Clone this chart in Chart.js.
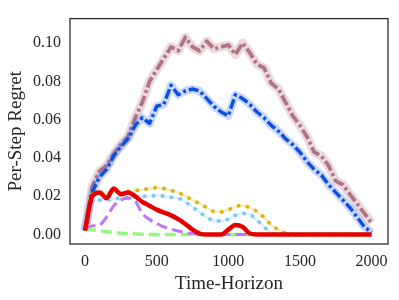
<!DOCTYPE html>
<html>
<head>
<meta charset="utf-8">
<script src="https://cdn.jsdelivr.net/npm/chart.js@4.4.1/dist/chart.umd.min.js"></script>
<style>
  body { margin: 0; background: #fff; }
  #wrap { width: 399px; height: 300px; }
</style>
</head>
<body>
<div id="wrap"><canvas id="regretChart" width="399" height="300"></canvas></div>
<script>
// time steps (x) shared by every series
const steps = [0, 50, 100, 150, 200, 250, 300, 350, 400, 450, 500, 550, 600, 650, 700, 750, 800, 850, 900, 950,
  1000, 1050, 1100, 1150, 1200, 1250, 1300, 1350, 1400, 1450, 1500, 1550, 1600, 1650, 1700, 1750, 1800, 1850, 1900, 1950, 2000];

// per-step regret
const mauveRegret = [0.002, 0.025, 0.033, 0.036, 0.042, 0.047, 0.051, 0.061, 0.069, 0.080, 0.086, 0.092, 0.098, 0.096, 0.103, 0.098, 0.096, 0.101, 0.097, 0.098,
  0.099, 0.094, 0.100, 0.095, 0.089, 0.087, 0.079, 0.076, 0.069, 0.062, 0.057, 0.051, 0.043, 0.041, 0.036, 0.028, 0.026, 0.021, 0.016, 0.011, 0.006];
const blueRegret = [0.002, 0.022, 0.030, 0.034, 0.041, 0.046, 0.050, 0.057, 0.061, 0.058, 0.067, 0.068, 0.078, 0.073, 0.075, 0.076, 0.075, 0.071, 0.067, 0.064,
  0.062, 0.073, 0.071, 0.068, 0.064, 0.061, 0.057, 0.054, 0.050, 0.047, 0.043, 0.038, 0.034, 0.031, 0.026, 0.022, 0.018, 0.014, 0.009, 0.004, 0.001];
const goldRegret = [0.002, 0.021, 0.022, 0.022, 0.022, 0.022, 0.0225, 0.023, 0.0235, 0.024, 0.0244, 0.024, 0.023, 0.022, 0.020, 0.018, 0.016, 0.014, 0.012, 0.0118,
  0.013, 0.0145, 0.0152, 0.014, 0.012, 0.009, 0.005, 0.0025, 0.0008, 0.0002, 0, 0, 0, 0, 0, 0, 0, 0, 0, 0, 0];
const skyRegret = [0.002, 0.017, 0.018, 0.018, 0.0185, 0.019, 0.019, 0.0195, 0.020, 0.020, 0.0205, 0.020, 0.0195, 0.019, 0.017, 0.0145, 0.0115, 0.009, 0.0072, 0.007,
  0.008, 0.010, 0.011, 0.0105, 0.0075, 0.004, 0.0008, 0, 0, 0, 0, 0, 0, 0, 0, 0, 0, 0, 0, 0, 0];
const redRegret = [0.002, 0.020, 0.022, 0.019, 0.024, 0.021, 0.022, 0.020, 0.017, 0.015, 0.013, 0.0115, 0.010, 0.008, 0.0055, 0.0025, 0.0005, 0, 0, 0,
  0.0025, 0.005, 0.004, 0.0005, 0, 0, 0, 0, 0, 0, 0, 0, 0, 0, 0, 0, 0, 0, 0, 0, 0];
const purpleRegret = [0.003, 0.0045, 0.005, 0.009, 0.015, 0.018, 0.019, 0.0175, 0.011, 0.0078, 0.0058, 0.004, 0.0028, 0.0018, 0.001, 0.0005, 0, 0, 0, 0,
  0, 0, 0, 0, 0, 0, 0, 0, 0, 0, 0, 0, 0, 0, 0, 0, 0, 0, 0, 0, 0];
const greenRegret = [0.003, 0.0025, 0.002, 0.0015, 0.001, 0.0007, 0.0005, 0.0003, 0.0001, 0, 0, 0, 0, 0, 0, 0, 0, 0, 0, 0,
  0, 0, 0, 0, 0, 0, 0, 0, 0, 0, 0, 0, 0, 0, 0, 0, 0, 0, 0, 0, 0];

// axis ticks
const xTicks = [0, 500, 1000, 1500, 2000];
const yTicks = [0, 0.02, 0.04, 0.06, 0.08, 0.10];

const serif = "'Liberation Serif', 'Times New Roman', serif";
const inkColor = '#262626';

// turn a series into {x, y} points
function toPoints(values) {
  return values.map((v, i) => ({ x: steps[i], y: v }));
}

// helper for a mean line
function meanLine(values, color, width, dash, smooth) {
  return {
    data: toPoints(values),
    borderColor: color,
    borderWidth: width,
    borderDash: dash,
    borderCapStyle: 'butt',
    borderJoinStyle: 'round',
    pointRadius: 0,
    fill: false,
    tension: smooth ? 0.4 : 0,
    cubicInterpolationMode: smooth ? 'monotone' : 'default'
  };
}

// helper for the pale confidence band under a line
function bandLine(values, color, width, smooth) {
  return meanLine(values, color, width, [], smooth);
}

// draws the box around the plot area
const framePlugin = {
  id: 'frame',
  afterDraw(chart) {
    const a = chart.chartArea;
    const ctx = chart.ctx;
    ctx.save();
    ctx.strokeStyle = inkColor;
    ctx.lineWidth = 1.25;
    ctx.strokeRect(a.left, a.top, a.right - a.left, a.bottom - a.top);
    ctx.restore();
  }
};

// first dataset is drawn on top
const datasets = [
  meanLine(redRegret, '#e50000', 4.5, [], true),
  meanLine(purpleRegret, '#bf77f6', 3, [11, 5], true),
  meanLine(greenRegret, '#96f97b', 3.5, [11, 5], true),
  meanLine(skyRegret, '#7bc8f6', 3.5, [3.5, 5.5], true),
  bandLine(skyRegret, 'rgba(123, 200, 246, 0.3)', 2, true),
  meanLine(goldRegret, '#dbb40c', 3.5, [3.5, 5.5], true),
  bandLine(goldRegret, 'rgba(219, 180, 12, 0.3)', 2, true),
  meanLine(blueRegret, '#0d4fe0', 3.5, [10, 3, 3, 3], false),
  bandLine(blueRegret, 'rgba(60, 110, 240, 0.28)', 8, false),
  meanLine(mauveRegret, '#b07584', 3.8, [11, 3, 3, 3], false),
  bandLine(mauveRegret, 'rgba(190, 130, 145, 0.3)', 9, false)
];

const ctx = document.getElementById('regretChart').getContext('2d');
const chart = new Chart(ctx, {
  type: 'line',
  data: { datasets: datasets },
  options: {
    responsive: false,
    animation: false,
    devicePixelRatio: 1,
    layout: { padding: { left: 0, top: 7, right: 11, bottom: 0 } },
    plugins: { legend: { display: false }, tooltip: { enabled: false } },
    scales: {
      x: {
        type: 'linear',
        min: -105,
        max: 2115,
        grid: { display: false, drawTicks: false },
        border: { display: false },
        afterBuildTicks: s => { s.ticks = xTicks.map(v => ({ value: v })); },
        afterFit: s => { s.height = 56; },
        ticks: {
          color: inkColor,
          padding: 8,
          maxRotation: 0,
          font: { family: serif, size: 16 },
          callback: v => String(v)
        },
        title: {
          display: true,
          text: 'Time-Horizon',
          color: inkColor,
          font: { family: serif, size: 19 },
          padding: { top: 0, bottom: 5 }
        }
      },
      y: {
        min: -0.00497,
        max: 0.1128,
        grid: { display: false, drawTicks: false },
        border: { display: false },
        afterBuildTicks: s => { s.ticks = yTicks.map(v => ({ value: v })); },
        afterFit: s => { s.width = 70; },
        ticks: {
          color: inkColor,
          padding: 9,
          font: { family: serif, size: 16 },
          callback: v => v.toFixed(2)
        },
        title: {
          display: true,
          text: 'Per-Step Regret',
          color: inkColor,
          font: { family: serif, size: 19 },
          padding: { top: 5, bottom: 0 }
        }
      }
    }
  },
  plugins: [framePlugin]
});
</script>
</body>
</html>
